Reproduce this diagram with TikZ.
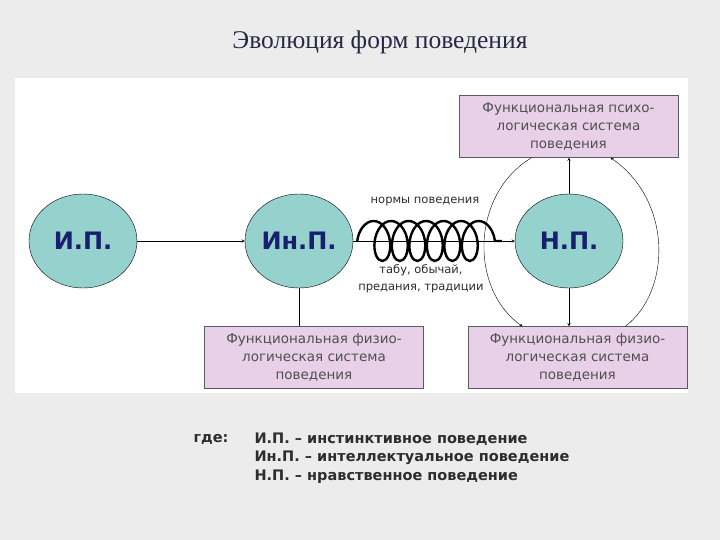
\documentclass[tikz,border=0pt]{standalone}
\usepackage{fontspec}
\setmainfont{DejaVu Sans}
\newfontfamily\titlefont{Liberation Serif}
\usetikzlibrary{shapes.geometric,decorations.pathmorphing}
\definecolor{bggray}{RGB}{236,236,236}
\definecolor{tealfill}{RGB}{150,210,205}
\definecolor{pinkfill}{RGB}{232,208,232}
\definecolor{boxline}{RGB}{90,90,100}
\definecolor{boxtxt}{RGB}{80,80,80}
\definecolor{navytxt}{RGB}{25,30,110}
\definecolor{titletxt}{RGB}{40,40,70}
\definecolor{legtxt}{RGB}{45,45,45}

\begin{document}
\begin{tikzpicture}[x=1pt,y=-1pt,>=stealth,
    behav/.style={ellipse,draw,thin,fill=tealfill,minimum width=108pt,
      minimum height=94pt,inner sep=0pt,text=navytxt,
      font=\fontsize{24}{24}\selectfont\bfseries},
    sysbox/.style={rectangle,draw=boxline,thin,fill=pinkfill,
      minimum width=219pt,minimum height=62pt,inner sep=0pt,align=center,
      text=boxtxt,font=\fontsize{13.5}{18}\selectfont},
    springtxt/.style={align=center,text=legtxt,
      font=\fontsize{11.5}{17}\selectfont},
    legend/.style={anchor=west,text=legtxt,
      font=\fontsize{14.5}{16}\selectfont\bfseries}]
    % background and white panel
    \fill[bggray] (0,0) rectangle (720,540);
    \fill[white] (15,78) rectangle (688,393);
    \node[titletxt,font=\titlefont\fontsize{25.5}{26}\selectfont] (title) at (380,42)
      {Эволюция форм поведения};

    % forms of behaviour
    \node[behav] (ip) at (83,241) {И.П.};
    \node[behav] (inp) at (299,241) {Ин.П.};
    \node[behav] (np) at (569,241) {Н.П.};

    % systems
    \node[sysbox] (psy) at (568.5,126.5)
      {Функциональная психо-\\логическая система\\поведения};
    \node[sysbox] (fizL) at (314,357.5)
      {Функциональная физио-\\логическая система\\поведения};
    \node[sysbox] (fizR) at (577.5,357.5)
      {Функциональная физио-\\логическая система\\поведения};

    \draw[->] (ip) -- (inp);
    \draw[->] (inp) -- (np);
    \draw[line width=2.4pt,decorate,
      decoration={coil,amplitude=20pt,segment length=17.5pt,aspect=0.6}]
      ([xshift=4pt]inp.east) -- ([xshift=-13pt]np.west);
    \node[springtxt] (norm) at (425,201) {нормы поведения};
    \node[springtxt] (trad) at (421,279) {табу, обычай,\\предания, традиции};

    \draw (inp.south) -- (inp.south |- fizL.north);
    \draw[->] (np.north) -- (np.north |- psy.south);
    \draw[->] (np.south) -- (np.south |- fizR.north);
    \draw[thin,->] ([xshift=-37pt]psy.south) .. controls (470,195) and (470,290)
      .. ([xshift=-55pt]fizR.north);
    \draw[thin,->] ([xshift=48pt]fizR.north) .. controls (672,290) and (672,200)
      .. ([xshift=42pt]psy.south);

    % legend
    \node[legend] (where) at (190,439) {где:};
    \node[legend] (leg1) at (251,439) {И.П. – инстинктивное поведение};
    \node[legend] (leg2) at (251,458) {Ин.П. – интеллектуальное поведение};
    \node[legend] (leg3) at (251,477) {Н.П. – нравственное поведение};
  \end{tikzpicture}
\end{document}
